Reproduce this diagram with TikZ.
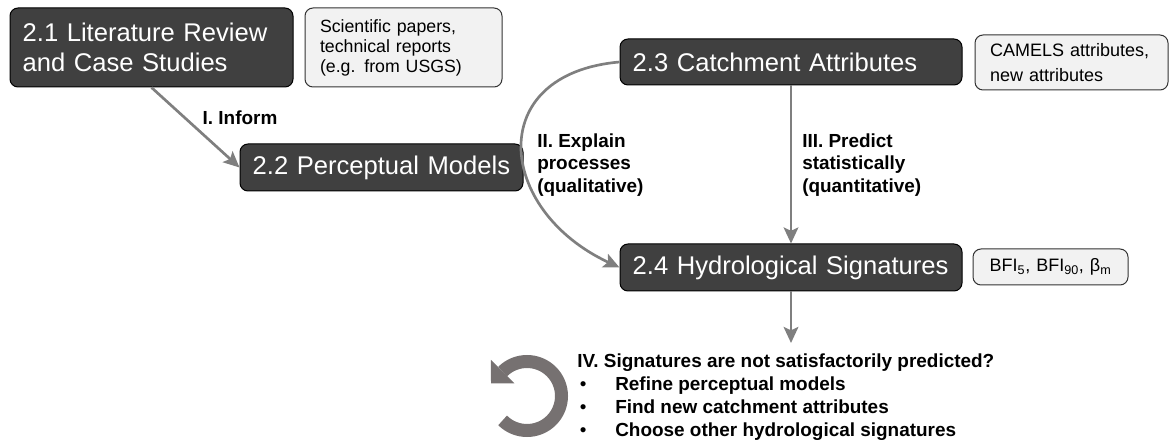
\documentclass[tikz,border=0pt]{standalone}
\usepackage{fontspec}
\setmainfont{Liberation Sans}
\usetikzlibrary{arrows.meta}
\definecolor{stagefill}{HTML}{404040}
\definecolor{notefill}{HTML}{F2F2F2}
\definecolor{arrowgray}{HTML}{7F7F7F}
\definecolor{icongray}{HTML}{767171}
\newcommand\bul{\makebox[28.5pt][l]{\hspace{2pt}\mdseries\textbullet}}

\begin{document}
\begin{tikzpicture}[x=0.75pt,y=0.75pt,
  stage/.style={draw=black,line width=0.75pt,fill=stagefill,text=white,rounded corners=6pt,
    inner xsep=9.5pt,inner ysep=0pt,align=left,font=\fontsize{19.2}{22.5}\selectfont},
  note/.style={draw=black!80,line width=0.75pt,fill=notefill,rounded corners=6pt,
    inner xsep=11.25pt,inner ysep=0pt,align=left,font=\fontsize{13.3}{15}\selectfont},
  conn/.style={draw=arrowgray,line width=2pt,-{Stealth[length=12pt,width=11pt,inset=2.5pt]}},
  lbl/.style={font=\bfseries\fontsize{14.2}{16.9}\selectfont,align=left,inner sep=0pt}]
\useasboundingbox (0,0) rectangle (1170,-441);

% stages
\node[stage,minimum height=59.25pt,text width=193.25pt] (lit) at (151.5,-47.5) {2.1 Literature Review\\and Case Studies};
\node[stage,minimum height=35.25pt,text width=193.25pt] (perc) at (381.5,-167.5) {2.2 Perceptual Models};
\node[stage,minimum height=34.5pt,text width=237.5pt] (catch) at (791,-62) {2.3 Catchment Attributes};
\node[stage,minimum height=35.25pt,text width=237.5pt] (sig) at (791,-267.5) {2.4 Hydrological Signatures};

% sources
\node[note,minimum height=59.25pt,text width=125.25pt] (sci) at (403.5,-47.5) {Scientific papers,\\technical reports\\(e.g. from USGS)};
\node[note,minimum height=41.25pt,text width=122.25pt,font=\fontsize{13.5}{18.75}\selectfont] (camels) at (1071.5,-62.5) {CAMELS attributes,\\new attributes};
\node[note,minimum height=27pt,inner xsep=6pt,text width=104.25pt,align=center,font=\fontsize{13.5}{15}\selectfont] (bfi) at (1050.5,-267) {BFI\textsubscript{5}, BFI\textsubscript{90}, β\textsubscript{m}};

% links
\draw[conn] (lit.south) -- (perc.west);
\node[lbl] (inform) at (240,-118) {I. Inform};
\draw[conn] (catch.west) to[out=185,in=155,looseness=1.7] (sig.west);
\node[lbl,anchor=west] (explain) at (537,-165) {II. Explain\\processes\\(qualitative)};
\draw[conn] (catch.south) -- (sig.north);
\node[lbl,anchor=west] (predict) at (802,-165) {III. Predict\\statistically\\(quantitative)};
\coordinate (next) at (791,-343);
\draw[conn] (sig.south) -- (next);

% loop back
\node[lbl,anchor=west,font=\bfseries\fontsize{14.2}{17.25}\selectfont] (retry) at (577,-397)
  {IV. Signatures are not satisfactorily predicted?\\\bul Refine perceptual models\\\bul Find new catchment attributes\\\bul Choose other hydrological signatures};
\coordinate (hub) at (527,-396);
\draw[icongray,line width=9.75pt] (hub) ++(225:34.5) arc[start angle=225,end angle=495,radius=34.5];
\fill[icongray] ([shift={(135:18)}]hub) -- ([shift={(135:51)}]hub) -- ([shift={(-36,12.7)}]hub) -- cycle;
\end{tikzpicture}
\end{document}
